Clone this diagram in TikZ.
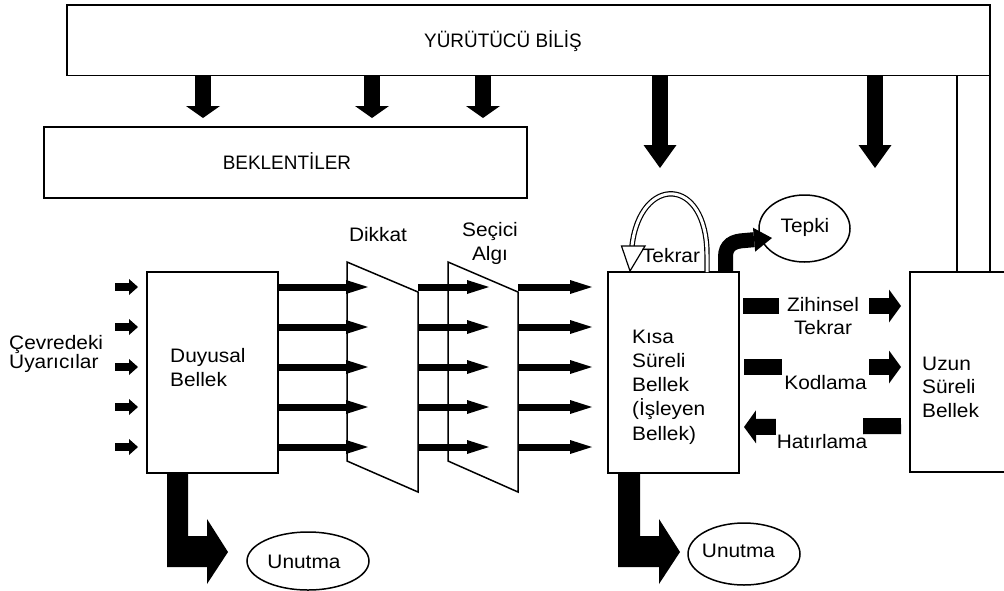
\documentclass[tikz,border=0pt]{standalone}
\usepackage{fontspec}
\setmainfont{Liberation Sans}[FakeStretch=1.07]
\newfontfamily\capsfam{Liberation Sans}[FakeStretch=0.97]
\usetikzlibrary{arrows.meta,shapes.geometric}
\begin{document}
\begin{tikzpicture}[x=1pt,y=-1pt,
  every node/.style={font=\fontsize{19.5}{24}\selectfont, inner sep=0pt},
  capsfont/.style={font=\capsfam\fontsize{19.5}{24}\selectfont},
  box/.style={draw, line width=1.5pt, inner sep=0pt},
  oval/.style={draw, ellipse, line width=1.5pt, inner sep=0pt},
  filt/.style={draw, line width=1.5pt},
  tarrow/.style={line width=16pt, -{Triangle[length=12pt,width=34pt,line width=0pt]}},
  barrow/.style={line width=16pt, -{Triangle[length=23pt,width=33pt,line width=0pt]}},
  inarrow/.style={line width=8pt, -{Triangle[length=9pt,width=16pt,line width=0pt]}},
  rowarrow/.style={line width=7pt, -{Triangle[length=22pt,width=14pt,line width=0pt]}},
  memarrow/.style={line width=16pt, -{Triangle[length=12pt,width=33pt,line width=0pt]}},
  tekrarline/.style={double, double distance=3pt, line width=1.2pt},
]
\useasboundingbox (0,0) rectangle (1004,590);
\begin{scope}
\clip (0,0) rectangle (1004,590);

% boxes
\node[box, minimum width=923pt, minimum height=70.5pt] (top) at (528.5,40.25) {};
\node[anchor=base, capsfont] (toptext) at (503,47) {YÜRÜTÜCÜ BİLİŞ};
\node[box, minimum width=483pt, minimum height=71pt] (bek) at (285.5,162.5) {};
\node[anchor=base, capsfont] (bektext) at (287,169) {BEKLENTİLER};
\node[box, minimum width=131pt, minimum height=201pt] (duy) at (212.5,372.5) {};
\node[box, minimum width=131pt, minimum height=201pt] (kisa) at (673.5,372.5) {};
\node[box, minimum width=104pt, minimum height=200pt] (uzun) at (962,372) {};
\node[box, minimum width=33pt, minimum height=196.5pt] (narrow) at (973.5,173.75) {};

% ellipses
\node[oval, minimum width=91pt, minimum height=67pt] (tepki) at (804.5,228.5) {};
\node[anchor=base] (tepkitext) at (805,232) {Tepki};
\node[oval, minimum width=122pt, minimum height=58pt] (un1) at (308,561) {};
\node[anchor=base] (un1text) at (304,568) {Unutma};
\node[oval, minimum width=112pt, minimum height=62pt] (un2) at (744,554) {};
\node[anchor=base] (un2text) at (738.5,557) {Unutma};

% texts (base anchor = baseline of last line)
\node[anchor=base west, align=left, font=\fontsize{19.5}{19}\selectfont] (cevre) at (9,368) {Çevredeki\\Uyarıcılar};
\node[anchor=base west, align=left] (duyt) at (170,386) {Duyusal\\Bellek};
\node[anchor=base west, align=left, font=\fontsize{19.5}{24.25}\selectfont] (kisat) at (632,440) {Kısa\\Süreli\\Bellek\\(İşleyen\\Bellek)};
\node[anchor=base west, align=left, font=\fontsize{19.5}{23.5}\selectfont] (uzunt) at (922,417) {Uzun\\Süreli\\Bellek};
\node[anchor=base] (dikkat) at (378,241) {Dikkat};
\node[anchor=base, align=center, font=\fontsize{19.5}{23.3}\selectfont] (secici) at (490,260) {Seçici\\Algı};

% filters
\draw[filt] (347,262) coordinate (f1a) -- (418,292) -- (418,492) -- (347,461) -- cycle;
\draw[filt] (448,262) coordinate (f2a) -- (518,292) -- (518,492) -- (448,461) -- cycle;

% arrows from top box
\foreach \xx in {203,372,483} {
  \draw[tarrow] (top.south -| \xx,0) -- (\xx,118);
}
\foreach \xx in {660,875} {
  \draw[barrow] (top.south -| \xx,0) -- (\xx,168);
}

% rows of arrows
\foreach \yy in {287,327,367,407,447} {
  \draw[inarrow] (115,\yy) -- (138,\yy);
  \draw[rowarrow] (duy.east |- 0,\yy) -- (368,\yy);
  \draw[rowarrow] (418,\yy) -- (489,\yy);
  \draw[rowarrow] (518,\yy) -- (592,\yy);
}

% memory arrows
\coordinate (zs) at (743,306); \coordinate (ze) at (901,306);
\draw[memarrow] (zs) -- (ze);
\fill[white] (779,290) rectangle (869,322);
\node[anchor=base, align=center, font=\fontsize{19.5}{23}\selectfont] (zihin) at (823,334) {Zihinsel\\Tekrar};

\coordinate (ks) at (744,367); \coordinate (ke) at (901,367);
\draw[memarrow] (ks) -- (ke);
\fill[white] (782,350) rectangle (869,384);
\node[anchor=base] (kod) at (825.5,389) {Kodlama};

\coordinate (hs) at (901,426); \coordinate (he) at (744,427);
\draw[memarrow] (hs) -- (he);
\fill[white] (776,410) rectangle (863,444);
\node[anchor=base] (hat) at (822,448) {Hatırlama};

% Tekrar loop
\draw[tekrarline] (707,272) -- (707,255) .. controls (707,175) and (640,175) .. (632,246);
\filldraw[fill=white, line width=1.2pt] (621.5,246) -- (645,246) -- (630,271) -- cycle;
\node[anchor=base] (tekrar) at (671,262) {Tekrar};

% Tepki arrow
\draw[line width=15pt, -{Triangle[length=18pt,width=24pt,line width=0pt]}]
  (725.5,272) -- (725.5,257) .. controls (725.5,245) and (733,241) .. (745,240.5) -- (772,238);

% Unutma arrows
\fill (167,473) -- (188,473) -- (188,536) -- (207,536) -- (207,519) -- (228,552) -- (207,584) -- (207,567) -- (167,567) -- cycle;
\fill (618,473) -- (640,473) -- (640,536) -- (659,536) -- (659,519) -- (680,552) -- (659,584) -- (659,567) -- (618,567) -- cycle;
\end{scope}
\end{tikzpicture}
\end{document}
